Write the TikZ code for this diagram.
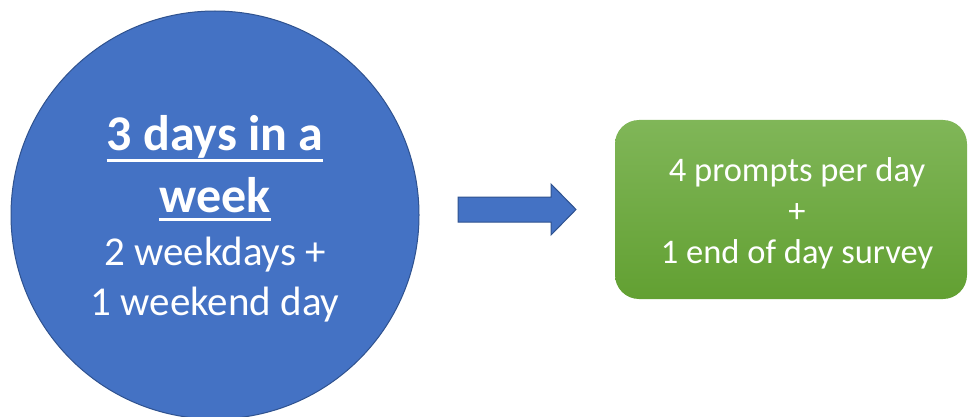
\documentclass[tikz,border=0pt]{standalone}
\usepackage{fontspec}
\setmainfont{Carlito}
\definecolor{blueFill}{HTML}{4472C4}
\definecolor{blueLine}{HTML}{2F528F}
\definecolor{greenTop}{RGB}{128,182,88}
\definecolor{greenBot}{RGB}{98,160,50}
\newcommand{\ulbox}[2]{\setbox0\hbox{#2}\rlap{\rule[-#1]{\wd0}{3pt}}\box0}
\begin{document}
\begin{tikzpicture}[x=1pt,y=-1pt,
  bluefill/.style={fill=blueFill, draw=blueLine, line width=1pt},
  ctxt/.style={text=white, inner sep=0pt, anchor=base},
  boldline/.style={ctxt, font=\fontsize{50}{60}\selectfont\bfseries},
  plainline/.style={ctxt, font=\fontsize{41}{50}\selectfont},
  greenbox/.style={rounded corners=24pt, top color=greenTop, bottom color=greenBot,
    draw=none, minimum width=352pt, minimum height=179pt, inner sep=0pt},
  boxtxt/.style={text=white, align=center, inner sep=0pt,
    font=\fontsize{34.5}{41}\selectfont}
]
\useasboundingbox (0,0) rectangle (971,417);
\node[circle, bluefill, minimum size=408pt, inner sep=0pt] (circ) at (215,215) {};
\node[boldline] (l1) at (215,150) {\ulbox{11.5pt}{3 days in a}};
\node[boldline] (l2) at (215,212) {\ulbox{8.5pt}{week}};
\node[plainline] (l3) at (215,265) {2 weekdays +};
\node[plainline] (l4) at (215,315) {1 weekend day};
\draw[bluefill] (458,197) -- (551,197) -- (551,184) -- (576,209.5) -- (551,235) -- (551,222) -- (458,222) -- cycle;
\node[greenbox] (box) at (791,209.5) {};
\node[boxtxt] (boxtext) at (797,213.5) {4 prompts per day\\+\\1 end of day survey};
\end{tikzpicture}
\end{document}
